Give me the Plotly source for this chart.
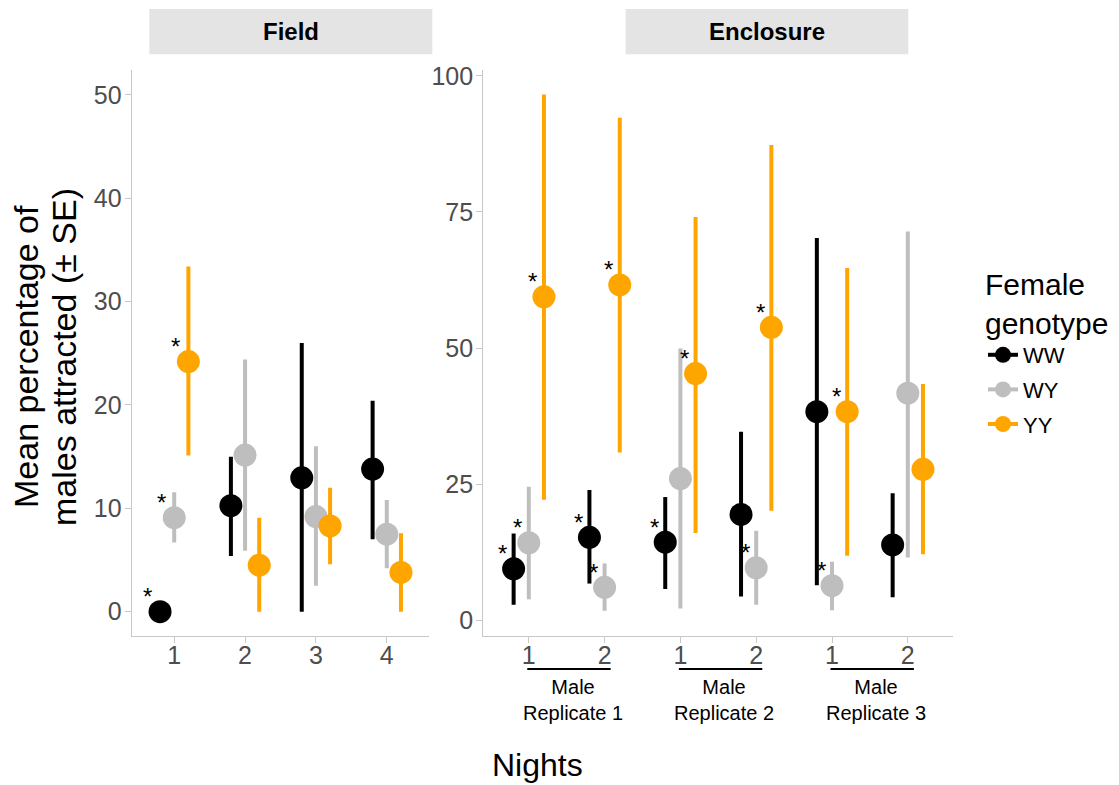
import plotly.graph_objects as go

# ---- data ---------------------------------------------------------------
genotypes = ["WW", "WY", "YY"]
colors = {"WW": "#000000", "WY": "#BEBEBE", "YY": "#FFA500"}
dodge = {"WW": -0.2, "WY": 0.0, "YY": 0.2}

field_nights = [1, 2, 3, 4]
field_labels = ["1", "2", "3", "4"]

field_WW_mean = [0.0, 10.25, 12.95, 13.8]
field_WW_lo = [0.0, 5.4, 0.0, 7.0]
field_WW_hi = [0.0, 15.0, 26.0, 20.4]
field_WY_mean = [9.1, 15.15, 9.2, 7.5]
field_WY_lo = [6.7, 5.9, 2.5, 4.2]
field_WY_hi = [11.55, 24.4, 16.0, 10.8]
field_YY_mean = [24.2, 4.5, 8.3, 3.8]
field_YY_lo = [15.1, 0.0, 4.6, 0.0]
field_YY_hi = [33.4, 9.1, 12.0, 7.6]
field_WW_sig = [1, 0, 0, 0]
field_WY_sig = [1, 0, 0, 0]
field_YY_sig = [1, 0, 0, 0]

enc_nights = [1, 2, 3, 4, 5, 6]
enc_labels = ["1", "2", "1", "2", "1", "2"]
enc_groups = ["Male<br>Replicate 1", "Male<br>Replicate 2", "Male<br>Replicate 3"]

enc_WW_mean = [9.4, 15.2, 14.3, 19.4, 38.3, 13.8]
enc_WW_lo = [2.8, 6.7, 5.7, 4.3, 6.4, 4.2]
enc_WW_hi = [15.9, 23.9, 22.6, 34.6, 70.2, 23.3]
enc_WY_mean = [14.2, 6.0, 26.0, 9.6, 6.3, 41.7]
enc_WY_lo = [3.8, 1.7, 2.1, 2.8, 1.8, 11.5]
enc_WY_hi = [24.5, 10.4, 49.9, 16.4, 10.7, 71.4]
enc_YY_mean = [59.4, 61.6, 45.3, 53.8, 38.3, 27.7]
enc_YY_lo = [22.1, 30.8, 16.0, 20.1, 11.8, 12.1]
enc_YY_hi = [96.6, 92.3, 74.1, 87.3, 64.7, 43.4]
enc_WW_sig = [1, 1, 1, 0, 0, 0]
enc_WY_sig = [1, 1, 0, 1, 1, 0]
enc_YY_sig = [1, 1, 1, 1, 1, 0]

field = {
    "WW": (field_WW_mean, field_WW_lo, field_WW_hi, field_WW_sig),
    "WY": (field_WY_mean, field_WY_lo, field_WY_hi, field_WY_sig),
    "YY": (field_YY_mean, field_YY_lo, field_YY_hi, field_YY_sig),
}
enclosure = {
    "WW": (enc_WW_mean, enc_WW_lo, enc_WW_hi, enc_WW_sig),
    "WY": (enc_WY_mean, enc_WY_lo, enc_WY_hi, enc_WY_sig),
    "YY": (enc_YY_mean, enc_YY_lo, enc_YY_hi, enc_YY_sig),
}

# ---- layout geometry (pixels) -------------------------------------------
W, H = 1119, 785
FONT = "Liberation Sans, Arial, Helvetica, sans-serif"


def px_x(p):
    return p / W


def px_y(p):
    return 1 - p / H


fig = go.Figure()
annotations = []


def add_panel(data, nights, xa, ya, star_dx):
    for g in genotypes:
        mean, lo, hi, sig = data[g]
        xs = [n + dodge[g] for n in nights]
        fig.add_trace(go.Scatter(
            x=xs, y=mean, mode="markers", xaxis=xa, yaxis=ya,
            marker=dict(size=23, color=colors[g]),
            error_y=dict(type="data", symmetric=False,
                         array=[h - m for h, m in zip(hi, mean)],
                         arrayminus=[m - l for m, l in zip(mean, lo)],
                         width=0, thickness=4, color=colors[g]),
            showlegend=False, hoverinfo="skip",
        ))
        for x, y, s in zip(xs, mean, sig):
            if s:
                annotations.append(dict(
                    x=x, y=y, xref=xa, yref=ya, text="*", showarrow=False,
                    xanchor="center", yanchor="middle",
                    xshift=star_dx, yshift=15,
                    font=dict(family=FONT, size=24, color="black"),
                ))


add_panel(field, field_nights, "x", "y", -13)
add_panel(enclosure, enc_nights, "x2", "y2", -11)

# legend entries (point + range key)
for g in genotypes:
    fig.add_trace(go.Scatter(
        x=[None], y=[None], mode="lines+markers", name=g, legendgroup=g,
        line=dict(color=colors[g], width=4),
        marker=dict(size=23, color=colors[g]),
    ))

axis_common = dict(
    showline=True, linecolor="#C8C8C8", linewidth=1.3,
    ticks="outside", ticklen=6, tickcolor="#C8C8C8", tickwidth=1.3,
    showgrid=False, zeroline=False, automargin=False,
    tickfont=dict(family=FONT, size=25, color="#4D4D4D"),
)

y_dom = [px_y(636), px_y(70)]
fig.update_layout(
    width=W, height=H,
    margin=dict(l=0, r=0, t=0, b=0, autoexpand=False),
    paper_bgcolor="white", plot_bgcolor="white",
    font=dict(family=FONT),
    xaxis=dict(domain=[px_x(131.7), px_x(429.3)], range=[0.4, 4.6],
               tickvals=field_nights, ticktext=field_labels, anchor="y",
               ticklabelstandoff=-9, **axis_common),
    yaxis=dict(domain=y_dom, range=[-2.35, 52.4], tickvals=[0, 10, 20, 30, 40, 50],
               anchor="x", ticklabelstandoff=-2, **axis_common),
    xaxis2=dict(domain=[px_x(483.3), px_x(953.3)], range=[0.4, 6.6],
                tickvals=enc_nights, ticktext=enc_labels, anchor="y2",
                ticklabelstandoff=-9, **axis_common),
    yaxis2=dict(domain=y_dom, range=[-2.94, 101.1], tickvals=[0, 25, 50, 75, 100],
                anchor="x2", ticklabelstandoff=-2, **axis_common),
    legend=dict(
        x=px_x(983), y=px_y(256), xanchor="left", yanchor="top",
        title=dict(text="Female<br>genotype",
                   font=dict(family=FONT, size=30, color="black")),
        font=dict(family=FONT, size=22, color="black"),
        bgcolor="rgba(0,0,0,0)", itemsizing="trace", tracegroupgap=3,
    ),
)

# facet strips
shapes = []
for x0, x1, label in [(149.3, 432.3, "Field"), (625.7, 908.3, "Enclosure")]:
    shapes.append(dict(type="rect", xref="paper", yref="paper",
                       x0=px_x(x0), x1=px_x(x1), y0=px_y(54.3), y1=px_y(9),
                       fillcolor="#E4E4E4", line=dict(width=0), layer="below"))
    annotations.append(dict(x=px_x((x0 + x1) / 2), y=px_y(31.7), xref="paper", yref="paper",
                            xanchor="center", yanchor="middle",
                            text="<b>%s</b>" % label, showarrow=False,
                            font=dict(family=FONT, size=24, color="black")))

# male replicate brackets under the enclosure axis
for i, label in enumerate(enc_groups):
    a = enc_nights[2 * i]
    b = enc_nights[2 * i + 1]
    shapes.append(dict(type="line", xref="x2", yref="paper",
                       x0=a - 0.02, x1=b + 0.08, y0=px_y(669), y1=px_y(669),
                       line=dict(color="black", width=2)))
    annotations.append(dict(x=(a + b) / 2 + 0.08, y=px_y(700), xref="x2", yref="paper",
                            text=label, showarrow=False,
                            xanchor="center", yanchor="middle",
                            font=dict(family=FONT, size=20, color="black")))

# axis titles
annotations.append(dict(x=px_x(537), y=px_y(765), xref="paper", yref="paper",
                        text="Nights", showarrow=False,
                        xanchor="center", yanchor="middle",
                        font=dict(family=FONT, size=32, color="black")))
for xc, line in [(26, "Mean percentage of"), (64, "males attracted (± SE)")]:
    annotations.append(dict(x=px_x(xc), y=px_y(357), xref="paper", yref="paper",
                            text=line, showarrow=False, textangle=-90,
                            xanchor="center", yanchor="middle",
                            font=dict(family=FONT, size=34, color="black")))

fig.update_layout(shapes=shapes, annotations=annotations)
fig.write_html("out.html")
